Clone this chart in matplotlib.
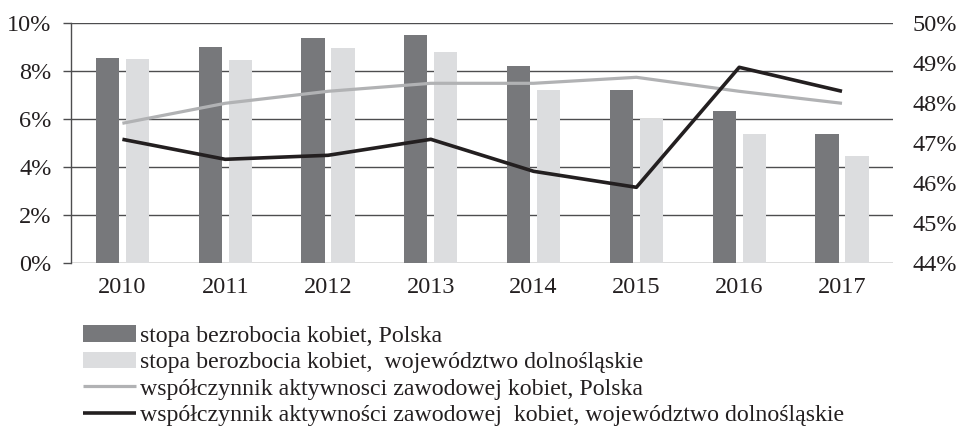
import matplotlib.pyplot as plt
import numpy as np
from matplotlib.ticker import FuncFormatter

plt.rcParams['font.family'] = ['Liberation Serif', 'DejaVu Serif']

years = ['2010', '2011', '2012', '2013', '2014', '2015', '2016', '2017']
# unemployment rate (left axis, %)
bezrobocie_pl = [8.55, 9.0, 9.4, 9.5, 8.2, 7.2, 6.35, 5.37]
bezrobocie_ds = [8.5, 8.45, 8.97, 8.8, 7.2, 6.02, 5.37, 4.47]
# activity rate (right axis, %)
aktywnosc_pl = [47.5, 48.0, 48.3, 48.5, 48.5, 48.65, 48.3, 48.0]
aktywnosc_ds = [47.1, 46.6, 46.7, 47.1, 46.3, 45.9, 48.9, 48.3]

labels = ['stopa bezrobocia kobiet, Polska',
          'stopa berozbocia kobiet,  województwo dolnośląskie',
          'współczynnik aktywnosci zawodowej kobiet, Polska',
          'współczynnik aktywności zawodowej  kobiet, województwo dolnośląskie']

c_dark = '#77787b'
c_light = '#dcdddf'
c_gray = '#b1b2b4'
c_black = '#231f20'
c_text = '#231f20'
c_grid = '#4d4d4f'
fs = 17.5
fs_leg = 17.2

fig = plt.figure(figsize=(9.61, 4.29), dpi=100)
ax = fig.add_axes([71 / 961, 1 - 263.3 / 429, (893.4 - 71) / 961, (263.3 - 23.3) / 429])

x = np.arange(len(years))
width = 0.227
off = 0.146
b1 = ax.bar(x - off, bezrobocie_pl, width=width, color=c_dark, zorder=2)
b2 = ax.bar(x + off, bezrobocie_ds, width=width, color=c_light, zorder=2)

ax.set_xlim(-0.5, len(years) - 0.5)
ax.set_ylim(0, 10)
ax.set_yticks(np.arange(0, 11, 2))
ax.yaxis.set_major_formatter(FuncFormatter(lambda v, p: f'{v:.0f}%'))
ax.set_xticks(x)
ax.set_xticklabels(years)
ax.yaxis.grid(True, color=c_grid, linewidth=1.0)
ax.set_axisbelow(True)
ax.tick_params(axis='x', length=0, pad=10, labelsize=fs, labelcolor=c_text)
ax.tick_params(axis='y', length=6, width=1.0, color=c_grid, direction='out', pad=8,
               labelsize=fs, labelcolor=c_text)
for s in ['top', 'right', 'bottom']:
    ax.spines[s].set_visible(False)
ax.spines['left'].set_color(c_grid)
ax.spines['left'].set_linewidth(1.0)

ax2 = ax.twinx()
l1, = ax2.plot(x, aktywnosc_pl, color=c_gray, linewidth=2.3, solid_capstyle='butt')
l2, = ax2.plot(x, aktywnosc_ds, color=c_black, linewidth=2.6, solid_capstyle='butt')
ax2.set_ylim(44, 50)
ax2.set_yticks(np.arange(44, 51, 1))
ax2.yaxis.set_major_formatter(FuncFormatter(lambda v, p: f'{v:.0f}%'))
ax2.tick_params(axis='y', length=0, pad=14, labelsize=fs, labelcolor=c_text)
for s in ax2.spines.values():
    s.set_visible(False)

fig.legend([b1, b2, l1, l2], labels, loc='upper left', bbox_to_anchor=(83 / 961, 1 - 325 / 429),
           frameon=False, fontsize=fs_leg, handlelength=2.2, handletextpad=0.18,
           labelspacing=0.2, borderpad=0, borderaxespad=0, labelcolor=c_text)

plt.savefig('out.png', dpi=100)
